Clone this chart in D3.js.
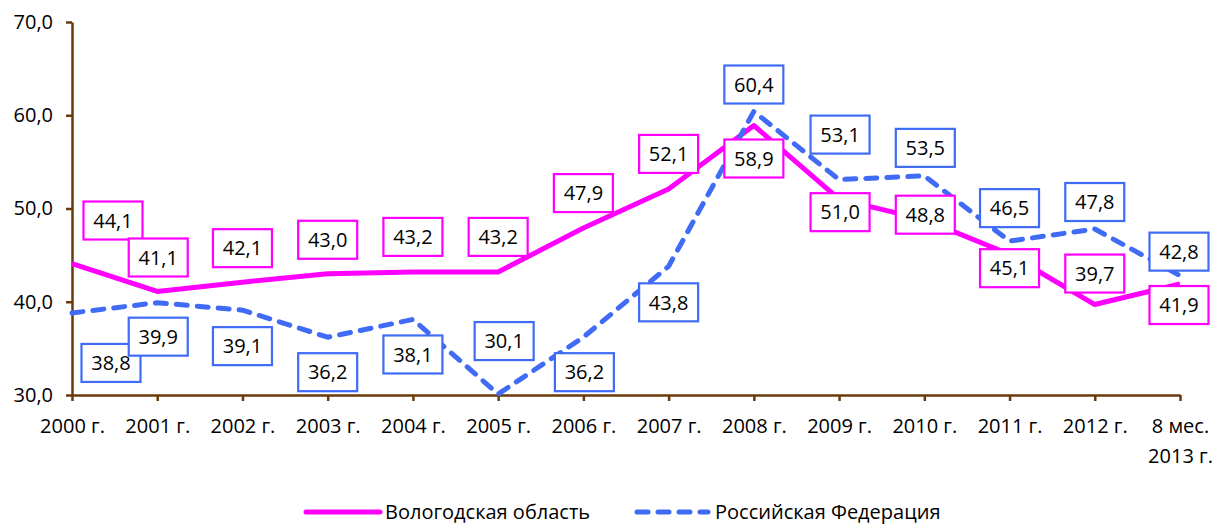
<!DOCTYPE html>
<html><head><meta charset="utf-8">
<script src="https://cdn.jsdelivr.net/npm/d3@7"></script>
<style>
html,body{margin:0;padding:0;background:#fff;}
svg{display:block;font-family:"Open Sans",sans-serif;}
</style></head>
<body>
<svg id="chart" width="1218" height="526"></svg>
<script>
const categories = ["2000 г.","2001 г.","2002 г.","2003 г.","2004 г.","2005 г.","2006 г.","2007 г.","2008 г.","2009 г.","2010 г.","2011 г.","2012 г.","8 мес.\n2013 г."];
const vologda = [44.1,41.1,42.1,43.0,43.2,43.2,47.9,52.1,58.9,51.0,48.8,45.1,39.7,41.9];
const russia  = [38.8,39.9,39.1,36.2,38.1,30.1,36.2,43.8,60.4,53.1,53.5,46.5,47.8,42.8];
const yTicks = [30,40,50,60,70];
const seriesNames = ["Вологодская область","Российская Федерация"];
// label box offsets relative to the data point (px)
const vologdaLabelDx = [41,1,0,0,0,0,0,0,0,1,1,0,0,-1];
const vologdaLabelDy = [-43,-34,-34,-34,-35,-35,-35,-35,33,13,-5,14,-31,21];
const russiaLabelDx  = [39,1,0,0,0,6,1,0,0,1,1,0,0,-1];
const russiaLabelDy  = [50,34,36,35,35,-53,35,36,-27,-45,-28,-33,-27,-24];

const svg = d3.select("#chart");
const locale = d3.formatLocale({decimal:",",thousands:" ",grouping:[3],currency:["",""]});
const fmt = locale.format(".1f");
const axisColor = "#6B3A0A";
const pink = "#FF00FF", blue = "#3F6BF5";

const x = d3.scalePoint().domain(categories).range([72,1180]).padding(0);
const y = d3.scaleLinear().domain([30,70]).range([395,22]);

// axes
const yAxis = svg.append("g").attr("transform","translate(72,0)")
  .call(d3.axisLeft(y).tickValues(yTicks).tickFormat(fmt).tickSize(6).tickSizeOuter(0).tickPadding(13));
const xAxis = svg.append("g").attr("transform","translate(0,395)")
  .call(d3.axisBottom(x).tickSize(6).tickSizeOuter(0).tickFormat(""));
[yAxis,xAxis].forEach(g=>{
  g.select(".domain").attr("stroke",axisColor).attr("stroke-width",2.5);
  g.selectAll(".tick line").attr("stroke",axisColor).attr("stroke-width",2.5);
});
yAxis.selectAll("text").attr("font-size",20).attr("fill","#000").attr("font-family","Open Sans");
xAxis.selectAll(".tick").each(function(d){
  const lines = d.split("\n");
  const t = d3.select(this).append("text").attr("fill","#000").attr("font-size",20)
    .attr("text-anchor","middle").attr("font-family","Open Sans");
  lines.forEach((l,i)=>t.append("tspan").attr("x",0).attr("y",38+i*30).text(l));
});

// lines
const line = d3.line().x((d,i)=>x(categories[i])).y(d=>y(d));
svg.append("path").datum(vologda).attr("d",line).attr("fill","none")
  .attr("stroke",pink).attr("stroke-width",5).attr("stroke-linejoin","round");
svg.append("path").datum(russia).attr("d",line).attr("fill","none")
  .attr("stroke",blue).attr("stroke-width",5).attr("stroke-dasharray","11,10")
  .attr("stroke-linecap","round").attr("stroke-linejoin","round");

// labels
function labels(data,dx,dy,color){
  const g = svg.append("g");
  data.forEach((v,i)=>{
    const cx = x(categories[i]) + dx[i], cy = y(v) + dy[i];
    g.append("rect").attr("x",cx-29.5).attr("y",cy-19).attr("width",59).attr("height",38)
      .attr("fill","#fff").attr("stroke",color).attr("stroke-width",2.2);
    g.append("text").attr("x",cx).attr("y",cy).attr("dy","0.36em").attr("text-anchor","middle")
      .attr("font-size",20).attr("fill","#000").text(fmt(v));
  });
}
labels(vologda,vologdaLabelDx,vologdaLabelDy,pink);
labels(russia,russiaLabelDx,russiaLabelDy,blue);

// legend
const leg = svg.append("g");
const ly = 512;
leg.append("line").attr("x1",306).attr("x2",380).attr("y1",ly).attr("y2",ly)
  .attr("stroke",pink).attr("stroke-width",5).attr("stroke-linecap","round");
leg.append("text").attr("x",385).attr("y",ly).attr("dy","0.35em").attr("font-size",20).text(seriesNames[0]);
leg.append("line").attr("x1",637).attr("x2",708).attr("y1",ly).attr("y2",ly)
  .attr("stroke",blue).attr("stroke-width",5).attr("stroke-dasharray","11,10").attr("stroke-linecap","round");
leg.append("text").attr("x",715).attr("y",ly).attr("dy","0.35em").attr("font-size",20).text(seriesNames[1]);
</script>
</body></html>
